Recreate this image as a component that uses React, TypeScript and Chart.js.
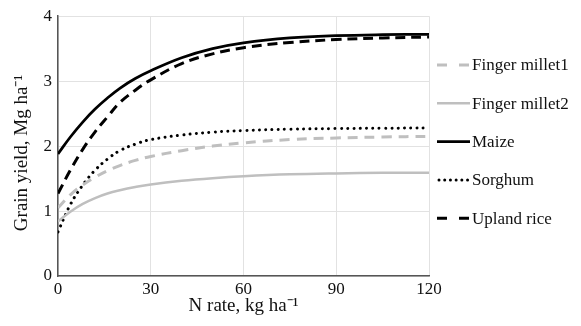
import React, { useEffect, useRef } from "react";
import { Chart, registerables } from "chart.js";

Chart.register(...registerables);

const nRates = [0, 4, 8, 12, 16, 20, 25, 30, 40, 50, 60, 75, 90, 105, 120];
const fingerMillet1 = [1.05, 1.25, 1.4, 1.52, 1.62, 1.7, 1.78, 1.84, 1.93, 2.0, 2.05, 2.1, 2.125, 2.14, 2.15];
const fingerMillet2 = [0.84, 0.99, 1.11, 1.2, 1.27, 1.32, 1.37, 1.41, 1.465, 1.505, 1.535, 1.565, 1.58, 1.588, 1.59];
const maize = [1.88, 2.14, 2.37, 2.57, 2.74, 2.89, 3.04, 3.16, 3.36, 3.5, 3.59, 3.665, 3.7, 3.715, 3.72];
const sorghum = [0.68, 1.1, 1.4, 1.63, 1.8, 1.93, 2.03, 2.1, 2.17, 2.215, 2.24, 2.26, 2.27, 2.275, 2.28];
const uplandRice = [1.27, 1.63, 1.95, 2.22, 2.45, 2.67, 2.86, 3.02, 3.27, 3.42, 3.515, 3.595, 3.64, 3.665, 3.68];
const seriesNames = ["Finger millet1", "Finger millet2", "Maize", "Sorghum", "Upland rice"];
const xTicks = [0, 30, 60, 90, 120];
const yTicks = [0, 1, 2, 3, 4];
const xTitle = "N rate, kg ha⁻¹";
const yTitle = "Grain yield, Mg ha⁻¹";

const FONT = "'Liberation Serif', 'Times New Roman', serif";

const legendPlugin = {
  id: "sideLegend",
  afterDraw(chart: any) {
    const ctx = chart.ctx;
    const x0 = 437;
    const x1 = 470;
    const yStart = 65;
    const step = 38.3;
    chart.data.datasets.forEach((ds: any, i: number) => {
      const y = yStart + i * step;
      ctx.save();
      ctx.strokeStyle = ds.borderColor;
      ctx.lineWidth = ds.borderWidth;
      ctx.lineCap = ds.borderCapStyle || "butt";
      let dash = ds.borderDash || [];
      const dotted = dash.length && dash[0] <= 1;
      if (dash.length && !dotted) dash = [10, 12];
      if (dotted) dash = [0.01, 5.7];
      ctx.setLineDash(dash);
      ctx.beginPath();
      ctx.moveTo(dotted ? x0 + 2 : x0, y);
      ctx.lineTo(x1, y);
      ctx.stroke();
      ctx.setLineDash([]);
      ctx.fillStyle = "#111";
      ctx.font = `17px ${FONT}`;
      ctx.textBaseline = "middle";
      ctx.textAlign = "left";
      ctx.fillText(ds.label, 472, y + 1);
      ctx.restore();
    });
    // y-axis title
    ctx.save();
    ctx.translate(22, 153);
    ctx.rotate(-Math.PI / 2);
    ctx.fillStyle = "#111";
    ctx.font = `19px ${FONT}`;
    ctx.textAlign = "center";
    ctx.textBaseline = "middle";
    ctx.fillText(yTitle, 0, 0);
    ctx.restore();
  },
};

export default function App() {
  const ref = useRef<HTMLCanvasElement | null>(null);
  useEffect(() => {
    if (!ref.current) return;
    const mk = (vals: number[]) => nRates.map((x, i) => ({ x, y: vals[i] }));
    const chart = new Chart(ref.current, {
      type: "line",
      data: {
        datasets: [
          { label: seriesNames[0], data: mk(fingerMillet1), borderColor: "#bfbfbf", borderWidth: 3, borderDash: [10, 7] },
          { label: seriesNames[1], data: mk(fingerMillet2), borderColor: "#bfbfbf", borderWidth: 2.5 },
          { label: seriesNames[2], data: mk(maize), borderColor: "#000000", borderWidth: 2.75 },
          { label: seriesNames[3], data: mk(sorghum), borderColor: "#000000", borderWidth: 3, borderDash: [0.01, 6.3], borderCapStyle: "round" },
          { label: seriesNames[4], data: mk(uplandRice), borderColor: "#000000", borderWidth: 3, borderDash: [10, 6] },
        ] as any,
      },
      options: {
        responsive: false,
        animation: false,
        events: [],
        layout: { padding: { left: 0, right: 152, top: 16, bottom: 0 } },
        elements: { point: { radius: 0 }, line: { tension: 0.4, fill: false } },
        plugins: { legend: { display: false }, tooltip: { enabled: false } },
        scales: {
          x: {
            type: "linear",
            min: 0,
            max: 120,
            afterFit: (s: any) => { s.height = 50; },
            afterBuildTicks: (s: any) => { s.ticks = xTicks.map((v) => ({ value: v })); },
            ticks: { font: { family: FONT, size: 17 }, color: "#111", padding: 3, maxRotation: 0 },
            grid: { color: "#e2e2e2", lineWidth: 1, drawTicks: false },
            border: { color: "#555", width: 1.5 },
            title: { display: true, text: xTitle, font: { family: FONT, size: 19 }, color: "#111", padding: { top: 0, bottom: 9 } },
          },
          y: {
            type: "linear",
            min: 0,
            max: 4,
            afterFit: (s: any) => { s.width = 58; },
            afterBuildTicks: (s: any) => { s.ticks = yTicks.map((v) => ({ value: v })); },
            ticks: { font: { family: FONT, size: 17 }, color: "#111", padding: 6 },
            grid: { color: "#e2e2e2", lineWidth: 1, drawTicks: false },
            border: { color: "#555", width: 1.5 },
            title: { display: false },
          },
        },
      } as any,
      plugins: [legendPlugin],
    });
    return () => chart.destroy();
  }, []);
  return (
    <div style={{ position: "absolute", left: 0, top: 0, width: 581, height: 326, background: "#fff" }}>
      <canvas ref={ref} width={581} height={326} />
    </div>
  );
}
